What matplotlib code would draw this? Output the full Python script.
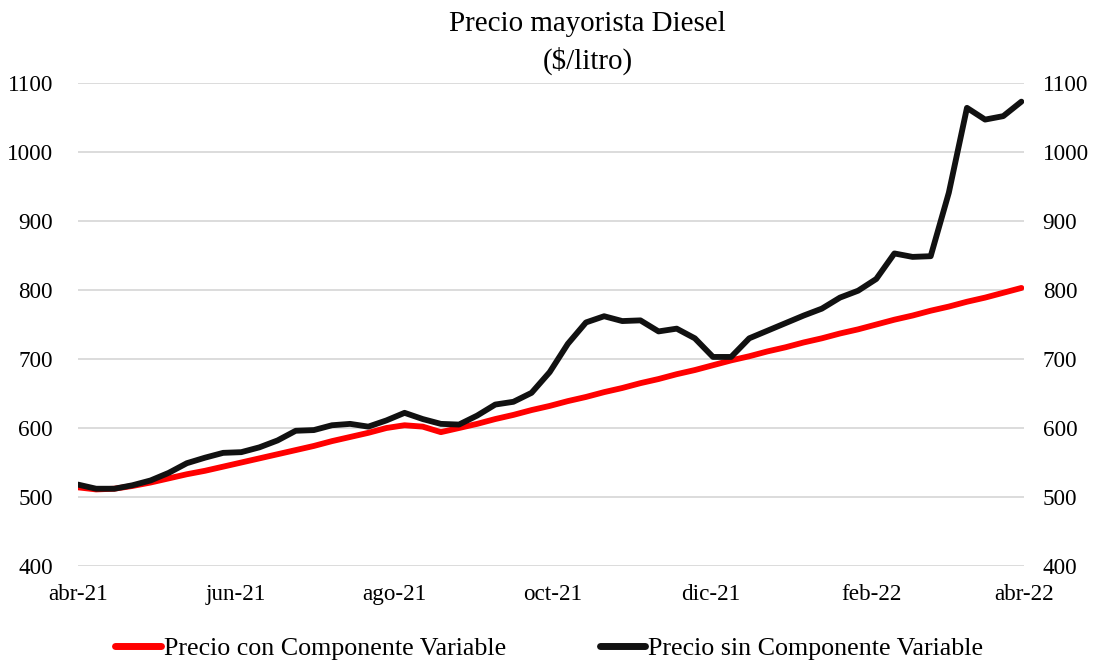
import matplotlib
matplotlib.use("Agg")
import matplotlib.pyplot as plt
import pandas as pd

title = "Precio mayorista Diesel"
subtitle = "($/litro)"
label_con = "Precio con Componente Variable"
label_sin = "Precio sin Componente Variable"

dates = pd.date_range("2021-04-01", periods=53, freq="7D")

precio_sin = [518, 512, 512, 517, 524, 535, 549, 557, 564, 565,
              572, 582, 596, 597, 604, 606, 602, 611, 622, 613,
              606, 605, 618, 634, 638, 651, 681, 722, 753, 762,
              755, 756, 740, 744, 730, 703, 703, 730, 741, 752,
              763, 773, 789, 799, 816, 853, 848, 849, 941, 1064,
              1047, 1052, 1073]

precio_con = [514, 511, 512, 516, 521, 527, 533, 538, 544, 550,
              556, 562, 568, 574, 581, 587, 593, 600, 604, 602,
              594, 600, 606, 613, 619, 626, 632, 639, 645, 652,
              658, 665, 671, 678, 684, 691, 698, 704, 711, 717,
              724, 730, 737, 743, 750, 757, 763, 770, 776, 783,
              789, 796, 803]

tick_dates = ["2021-04-01", "2021-06-01", "2021-08-01", "2021-10-01",
              "2021-12-01", "2022-02-01", "2022-04-01"]
tick_labels = ["abr-21", "jun-21", "ago-21", "oct-21", "dic-21", "feb-22", "abr-22"]
y_ticks = [400, 500, 600, 700, 800, 900, 1000, 1100]

plt.rcParams['font.family'] = ['Liberation Serif', 'DejaVu Serif']

fig = plt.figure(figsize=(10.94, 6.62), dpi=100)
ax = fig.add_axes([0.0713, 0.145, 0.8647, 0.7296])

ax.plot(dates, precio_con, color="#ff0000", lw=4.2, label=label_con,
        solid_capstyle="round", solid_joinstyle="round", zorder=3)
ax.plot(dates, precio_sin, color="#111111", lw=4.2, label=label_sin,
        solid_capstyle="round", solid_joinstyle="round", zorder=4)

ax.set_ylim(400, 1100)
ax.set_yticks(y_ticks)
ax.set_xlim(pd.Timestamp("2021-04-01"), pd.Timestamp("2022-04-01"))
ax.set_xticks([pd.Timestamp(d) for d in tick_dates])
ax.set_xticklabels(tick_labels)

ax.grid(axis="y", color="#d9d9d9", lw=1.3)
ax.set_axisbelow(True)
for s in ax.spines.values():
    s.set_visible(False)
ax.tick_params(axis="both", length=0, labelsize=16.7, colors="#000000")
ax.tick_params(axis="x", pad=13)
ax.tick_params(axis="y", pad=18)

ax2 = ax.twinx()
ax2.set_ylim(400, 1100)
ax2.set_yticks(y_ticks)
for s in ax2.spines.values():
    s.set_visible(False)
ax2.tick_params(axis="y", length=0, labelsize=16.7, pad=13.5)

fig.text(0.537, 0.964, title, ha="center", va="center", fontsize=20.9)
fig.text(0.537, 0.908, subtitle, ha="center", va="center", fontsize=20.9)

leg = fig.legend(loc="center", bbox_to_anchor=(0.502, 0.021), ncol=2, frameon=False,
                 fontsize=18.7, handlelength=1.75, handletextpad=0.12, columnspacing=3.6)
for line in leg.get_lines():
    line.set_linewidth(5)

fig.savefig("out.png", dpi=100)
